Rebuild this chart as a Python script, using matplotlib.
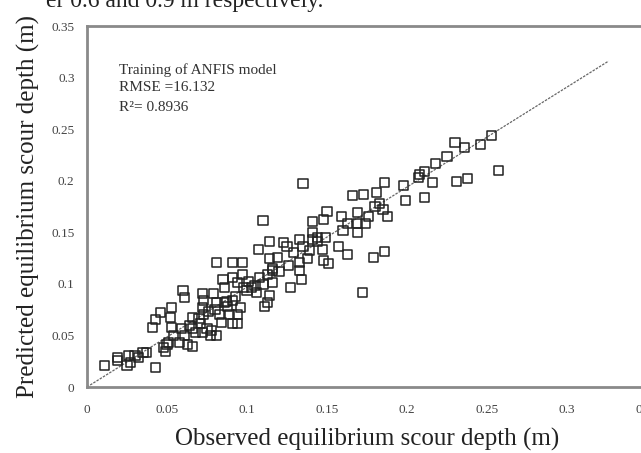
import matplotlib.pyplot as plt
import numpy as np

# Observed vs predicted scour depth (m)
observed = [
    0.011, 0.019, 0.019, 0.025, 0.027, 0.026, 0.030, 0.032, 0.035, 0.037,
    0.043, 0.041, 0.043, 0.046, 0.048, 0.049, 0.050, 0.051, 0.054, 0.053,
    0.052, 0.053, 0.058, 0.059, 0.061, 0.063, 0.066, 0.066, 0.060, 0.061,
    0.064, 0.066, 0.068, 0.071, 0.072, 0.073, 0.072, 0.073, 0.072, 0.075,
    0.077, 0.079, 0.081, 0.080, 0.083, 0.084, 0.078, 0.081, 0.081, 0.091,
    0.097, 0.085, 0.086, 0.086, 0.088, 0.089, 0.091, 0.094, 0.091, 0.096,
    0.094, 0.091, 0.094, 0.097, 0.098, 0.101, 0.103, 0.106, 0.108, 0.110,
    0.113, 0.116, 0.116, 0.114, 0.113, 0.111, 0.107, 0.114, 0.114, 0.110,
    0.125, 0.129, 0.133, 0.123, 0.133, 0.135, 0.138, 0.133, 0.134, 0.127,
    0.119, 0.116, 0.135, 0.141, 0.144, 0.144, 0.149, 0.147, 0.148, 0.151,
    0.141, 0.141, 0.148, 0.150, 0.157, 0.163, 0.159, 0.163, 0.169, 0.169,
    0.169, 0.174, 0.176, 0.179, 0.186, 0.172, 0.166, 0.173, 0.181, 0.186,
    0.183, 0.180, 0.185, 0.188, 0.198, 0.199, 0.211, 0.208, 0.211, 0.207,
    0.216, 0.218, 0.225, 0.230, 0.236, 0.246, 0.253, 0.231, 0.238, 0.257,
    0.070, 0.076, 0.087, 0.093, 0.100, 0.105, 0.120, 0.126, 0.139, 0.160,
]
predicted = [
    0.021, 0.026, 0.029, 0.021, 0.024, 0.031, 0.031, 0.029, 0.033, 0.033,
    0.019, 0.058, 0.065, 0.072, 0.038, 0.034, 0.041, 0.043, 0.050, 0.058,
    0.067, 0.077, 0.043, 0.057, 0.050, 0.041, 0.039, 0.057, 0.094, 0.087,
    0.060, 0.067, 0.053, 0.062, 0.091, 0.084, 0.077, 0.070, 0.053, 0.057,
    0.050, 0.091, 0.082, 0.075, 0.070, 0.063, 0.055, 0.050, 0.121, 0.121,
    0.121, 0.104, 0.096, 0.082, 0.078, 0.070, 0.062, 0.062, 0.084, 0.077,
    0.070, 0.106, 0.101, 0.109, 0.096, 0.102, 0.096, 0.092, 0.106, 0.099,
    0.109, 0.101, 0.115, 0.089, 0.082, 0.078, 0.133, 0.141, 0.125, 0.161,
    0.136, 0.130, 0.121, 0.140, 0.143, 0.136, 0.125, 0.113, 0.104, 0.096,
    0.126, 0.113, 0.197, 0.143, 0.141, 0.145, 0.145, 0.133, 0.123, 0.120,
    0.160, 0.150, 0.162, 0.170, 0.136, 0.128, 0.165, 0.159, 0.169, 0.159,
    0.150, 0.159, 0.165, 0.126, 0.131, 0.092, 0.186, 0.187, 0.189, 0.198,
    0.178, 0.175, 0.172, 0.165, 0.195, 0.181, 0.184, 0.206, 0.209, 0.203,
    0.198, 0.217, 0.223, 0.237, 0.232, 0.235, 0.244, 0.199, 0.202, 0.210,
    0.066, 0.073, 0.083, 0.088, 0.094, 0.098, 0.112, 0.118, 0.132, 0.152,
]

# fitted line shown in the chart (end points)
fit_x = [0.0, 0.326]
fit_y = [0.0, 0.316]

x_ticks = [0, 0.05, 0.1, 0.15, 0.2, 0.25, 0.3, 0.35]
y_ticks = [0, 0.05, 0.1, 0.15, 0.2, 0.25, 0.3, 0.35]

serif = ['Liberation Serif', 'DejaVu Serif']
grey = '#8a8a8a'

fig = plt.figure(figsize=(6.41, 4.53), dpi=100)
fig.patch.set_facecolor('white')
ax = fig.add_axes([87 / 641, 66 / 453, 576 / 641, 361 / 453])

ax.plot(fit_x, fit_y, color='#666666', lw=0.9, ls=(0, (2, 1)), zorder=1)
ax.scatter(observed, predicted, marker='s', s=42, facecolors='none',
           edgecolors='#222222', linewidths=1.1, zorder=2)

ax.set_xlim(0, 0.36)
ax.set_ylim(0, 0.35)
ax.set_xticks(x_ticks)
ax.set_yticks(y_ticks)
ax.set_xticklabels([f'{t:g}' for t in x_ticks])
ax.set_yticklabels([f'{t:g}' for t in y_ticks])
ax.tick_params(axis='x', length=0, pad=12, labelsize=9.5, labelcolor='#444444')
ax.tick_params(axis='y', length=0, pad=9, labelsize=9.5, labelcolor='#444444')
for lab in ax.get_xticklabels() + ax.get_yticklabels():
    lab.set_family(serif)

for side in ['left', 'bottom', 'top', 'right']:
    ax.spines[side].set_color(grey)
    ax.spines[side].set_linewidth(2)

ax.set_xlabel('Observed equilibrium scour depth (m)', family=serif,
              fontsize=18, color='#222222')
ax.xaxis.set_label_coords((367 - 87) / 576, -0.113)
ax.set_ylabel('Predicted equilibrium scour depth (m)', family=serif,
              fontsize=18, color='#222222', labelpad=8)

# annotation text
ax.text(0.02, 0.3075, 'Training of ANFIS model', family=serif, fontsize=11,
        color='#333333', va='center')
ax.text(0.02, 0.290, 'RMSE =16.132', family=serif, fontsize=11,
        color='#333333', va='center')
ax.text(0.02, 0.2705, 'R²= 0.8936', family=serif, fontsize=11,
        color='#333333', va='center')

# clipped caption line above the chart
fig.text(323 / 641, 1 - 7 / 453, 'er 0.6 and 0.9 m respectively.', family=serif,
         fontsize=17, ha='right', va='baseline', color='#222222')

fig.savefig('out.png', dpi=100)
